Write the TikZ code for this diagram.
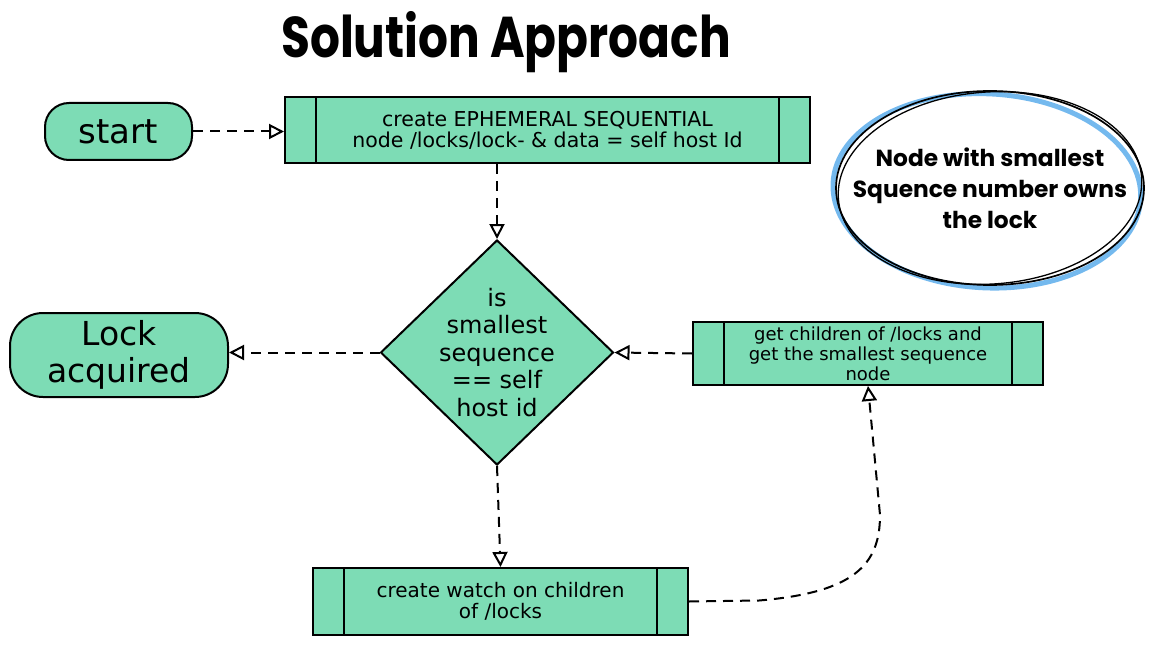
\documentclass[tikz,border=0pt]{standalone}
\usepackage{fontspec}
\setmainfont{DejaVu Sans}
\newfontfamily\headfont{Poppins}
\usepackage{tikz}
\usetikzlibrary{arrows.meta,shapes.geometric}
\definecolor{stepgreen}{HTML}{7DDCB5}
\definecolor{noteblue}{HTML}{74B9EE}

\begin{document}
\begin{tikzpicture}[x=1pt, y=-1pt,
    terminal/.style={draw, line width=2pt, fill=stepgreen, rounded corners=24pt,
        align=center, inner sep=0pt},
    procbox/.style={draw, line width=2pt, fill=stepgreen, align=center, inner sep=0pt,
        path picture={
          \draw[line width=1.4pt]
            ([xshift=31pt]path picture bounding box.north west) --
            ([xshift=31pt]path picture bounding box.south west)
            ([xshift=-31pt]path picture bounding box.north east) --
            ([xshift=-31pt]path picture bounding box.south east);}},
    flow/.style={-{Triangle[open,length=15pt,width=15pt]}, line width=2pt,
        dash pattern=on 10pt off 7pt}]

    \useasboundingbox (0,0) rectangle (1153,655);

    % ── Title ────────────────────────────────────────────────────────────────
    \node[font=\headfont\bfseries\fontsize{50}{56}\selectfont] (title) at (506,42)
        {\scalebox{0.94}[1.15]{Solution Approach}};

    % ── Main flow ────────────────────────────────────────────────────────────
    \node[terminal, minimum width=147pt, minimum height=57pt,
          font=\fontsize{34}{38}\selectfont] (start) at (118.5,131.5) {start};
    \node[procbox, minimum width=525pt, minimum height=66pt,
          font=\fontsize{20.5}{21}\selectfont] (create) at (547.5,130)
        {create EPHEMERAL SEQUENTIAL\\node /locks/lock- \& data = self host Id};
    \node[diamond, draw, line width=2pt, fill=stepgreen, inner sep=-30pt,
          minimum width=233pt, minimum height=225pt, align=center,
          font=\fontsize{24}{27.5}\selectfont] (check) at (497,352.5)
        {is\\smallest\\sequence\\== self\\host id};
    \node[terminal, rounded corners=33pt, minimum width=218pt, minimum height=84pt,
          font=\fontsize{33}{37}\selectfont] (lock) at (119,355) {Lock\\acquired};
    \node[procbox, minimum width=350pt, minimum height=63pt,
          font=\fontsize{18}{20}\selectfont] (children) at (868,353.5)
        {get children of /locks and\\get the smallest sequence\\node};
    \node[procbox, minimum width=375pt, minimum height=67pt,
          font=\fontsize{20}{21}\selectfont] (watch) at (500.5,601.5)
        {create watch on children\\of /locks};

    % ── Note (sketchy ellipse) ──────────────────────────────────────────────
    \coordinate (notec) at (990,188);
    \draw[noteblue, line width=5pt, rotate around={-3:(notec)}]
        ([xshift=-3pt,yshift=-3pt]notec) ellipse [x radius=154, y radius=97];
    \draw[line width=1.3pt, rotate around={4:(notec)}]
        (notec) ellipse [x radius=152, y radius=96];
    \node[ellipse, draw, line width=1.7pt, inner sep=-60pt,
          minimum width=308pt, minimum height=194pt, align=center,
          font=\headfont\bfseries\fontsize{23.3}{31}\selectfont] (note) at (notec)
        {Node with smallest\\Squence number owns\\the lock};

    % ── Connectors ───────────────────────────────────────────────────────────
    \draw[flow] (start.east) -- (start.east -| create.west);
    \draw[flow] (create.south -| check.north) -- (check.north);
    \draw[flow] (check.west) -- (check.west -| lock.east);
    \draw[flow] (children.west) -- (check.east);
    \draw[flow] (check.south) -- (watch.north);
    \coordinate (rise) at (880,515);
    \draw[flow] (watch.east) -- ++(70,-1) .. controls +(95,-8) and +(0,50) .. (rise)
        -- (children.south);

\end{tikzpicture}
\end{document}
